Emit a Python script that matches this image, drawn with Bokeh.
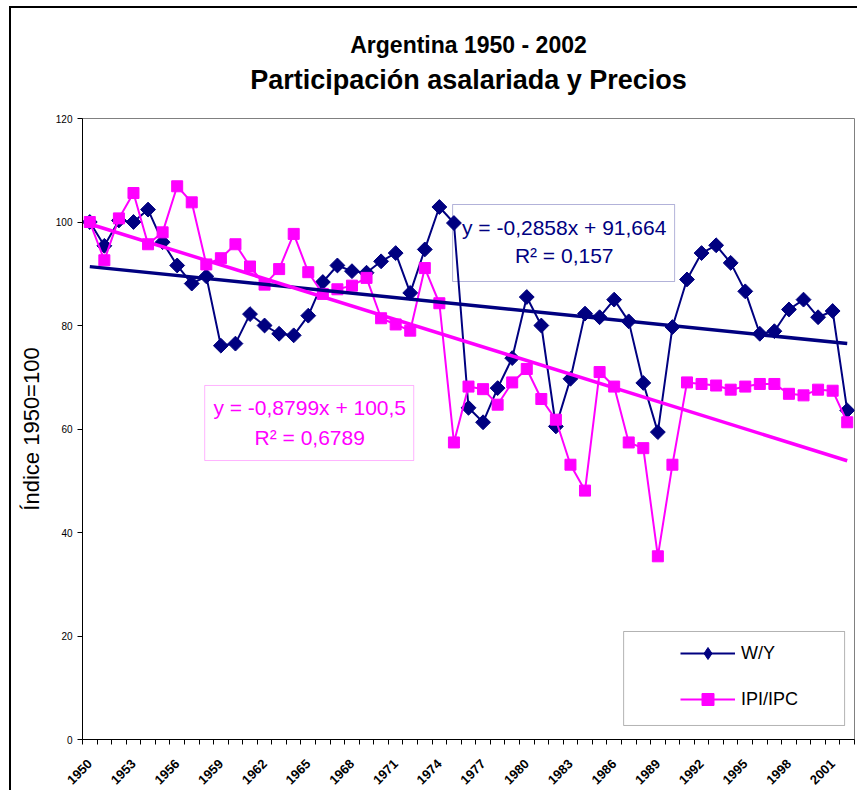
import math
from bokeh.plotting import figure
from bokeh.models import (Range1d, FixedTicker, Legend, LegendItem, Label,
                          BoxAnnotation, Title)
from bokeh.embed import file_html
from bokeh.resources import INLINE

years = list(range(1950, 2003))
wy = [100.0, 95.4, 100.3, 100.0, 102.4, 96.1, 91.6, 88.1, 89.5, 76.1,
      76.5, 82.2, 80.0, 78.4, 78.1, 81.9, 88.4, 91.6, 90.5, 90.2,
      92.4, 94.0, 86.3, 94.7, 102.9, 99.8, 64.1, 61.3, 67.9, 73.7,
      85.5, 80.0, 60.5, 69.7, 82.3, 81.6, 85.0, 80.8, 68.9, 59.4,
      79.7, 88.9, 94.0, 95.5, 92.1, 86.6, 78.4, 78.9, 83.1, 85.0,
      81.6, 82.8, 63.6]
ipi = [100.0, 92.6, 100.7, 105.6, 95.7, 98.0, 106.9, 103.8, 91.8, 93.0,
       95.7, 91.4, 87.9, 90.9, 97.7, 90.3, 86.1, 87.0, 87.7, 89.2,
       81.4, 80.2, 79.0, 91.1, 84.3, 57.4, 68.2, 67.7, 64.7, 69.0,
       71.6, 65.8, 61.8, 53.1, 48.1, 71.0, 68.2, 57.4, 56.3, 35.4,
       53.1, 69.0, 68.7, 68.4, 67.6, 68.2, 68.7, 68.7, 66.8, 66.5,
       67.6, 67.4, 61.3]
y_ticks = [0, 20, 40, 60, 80, 100, 120]
wy_slope, wy_icpt, wy_r2 = -0.2858, 91.664, 0.157
ipi_slope, ipi_icpt, ipi_r2 = -0.8799, 100.5, 0.6789

xs = list(range(1, len(years) + 1))
label_pos = xs[::3]
label_text = {xv: str(years[xv - 1]) for xv in label_pos}

NAVY = "#000080"
PINK = "#FF00FF"
FONT = "Liberation Sans"

p = figure(width=848, height=784, output_backend="svg", toolbar_location=None,
           x_range=Range1d(0.5, len(years) + 0.5), y_range=Range1d(0, 120),
           min_border_left=71, min_border_right=5, min_border_top=110,
           min_border_bottom=53, title="Argentina 1950 - 2002")
p.styles = {"border-left": "2px solid black", "border-top": "2px solid black",
            "margin-left": "9px", "margin-top": "6px"}
p.title.align = "center"
p.title.text_font = FONT
p.title.text_font_size = "23px"
p.title.text_font_style = "bold"
p.title.text_color = "black"
p.title.standoff = -39
t2 = Title(text="Participación asalariada y Precios", align="center",
           text_font=FONT, text_font_size="27px", text_font_style="bold",
           text_color="black", standoff=48)
p.add_layout(t2, "above")

p.background_fill_color = "white"
p.border_fill_color = "white"
p.outline_line_color = "#808080"
p.outline_line_width = 1
p.xgrid.visible = False
p.ygrid.visible = False

# axes
p.yaxis.ticker = FixedTicker(ticks=y_ticks)
p.yaxis.major_tick_out = 5
p.yaxis.major_tick_in = 0
p.yaxis.minor_tick_line_color = None
p.yaxis.major_label_text_font = FONT
p.yaxis.major_label_text_font_size = "10px"
p.yaxis.major_label_text_color = "black"
p.yaxis.major_label_standoff = 5
p.yaxis.axis_label = "Índice 1950=100"
p.yaxis.axis_label_text_font = FONT
p.yaxis.axis_label_text_font_size = "22px"
p.yaxis.axis_label_text_font_style = "normal"
p.yaxis.axis_label_text_color = "black"
p.yaxis.axis_label_standoff = 9
p.yaxis.axis_line_color = "black"

p.xaxis.ticker = FixedTicker(ticks=label_pos,
                             minor_ticks=[i + 0.5 for i in range(0, len(years) + 1)])
p.xaxis.major_label_overrides = label_text
p.xaxis.major_tick_out = 0
p.xaxis.major_tick_in = 0
p.xaxis.major_tick_line_color = None
p.xaxis.minor_tick_out = 5
p.xaxis.minor_tick_in = 0
p.xaxis.minor_tick_line_color = "black"
p.xaxis.major_label_orientation = math.pi / 4
p.xaxis.major_label_text_font = FONT
p.xaxis.major_label_text_font_size = "13px"
p.xaxis.major_label_text_font_style = "bold"
p.xaxis.major_label_text_color = "black"
p.xaxis.major_label_standoff = 17
p.xaxis.axis_line_color = "black"

# series
l1 = p.line(xs, wy, line_color=NAVY, line_width=2)
s1 = p.scatter(xs, wy, marker="square", angle=math.pi / 4, size=10.5,
               fill_color=NAVY, line_color=NAVY)
l2 = p.line(xs, ipi, line_color=PINK, line_width=2)
s2 = p.scatter(xs, ipi, marker="square", size=11, fill_color=PINK, line_color=PINK)
# legend-only diamond glyph (not drawn in the plot: NaN position)
d1 = p.scatter([float("nan")], [float("nan")], marker="diamond", size=17,
               fill_color=NAVY, line_color=NAVY)

# trendlines
tx = [xs[0], xs[-1]]
p.line(tx, [wy_icpt + wy_slope * v for v in tx], line_color=NAVY, line_width=3.5)
p.line(tx, [ipi_icpt + ipi_slope * v for v in tx], line_color=PINK, line_width=3.5)

# equation boxes
p.add_layout(BoxAnnotation(left=25.91, right=41.15, bottom=88.5, top=103.38,
                           fill_alpha=0, line_color=NAVY, line_width=1))
p.add_layout(Label(x=33.57, y=98.94, text="y = -0,2858x + 91,664",
                   text_align="center", text_baseline="middle", text_font=FONT,
                   text_font_size="21px", text_color=NAVY))
p.add_layout(Label(x=33.57, y=93.53, text="R² = 0,157",
                   text_align="center", text_baseline="middle", text_font=FONT,
                   text_font_size="21px", text_color=NAVY))
p.add_layout(BoxAnnotation(left=8.89, right=23.24, bottom=53.91, top=68.41,
                           fill_alpha=0, line_color=PINK, line_width=1))
p.add_layout(Label(x=16.10, y=64.15, text="y = -0,8799x + 100,5",
                   text_align="center", text_baseline="middle", text_font=FONT,
                   text_font_size="21px", text_color=PINK))
p.add_layout(Label(x=16.10, y=58.36, text="R² = 0,6789",
                   text_align="center", text_baseline="middle", text_font=FONT,
                   text_font_size="21px", text_color=PINK))

# legend
p.add_layout(BoxAnnotation(left=37.65, right=52.82, bottom=2.71, top=20.87,
                           fill_color="white", fill_alpha=1, line_color="black",
                           line_width=1))
legend = Legend(items=[LegendItem(label="W/Y", renderers=[l1, d1]),
                       LegendItem(label="IPI/IPC", renderers=[l2, s2])],
                location=(598, 25), padding=0, spacing=16, glyph_height=30,
                glyph_width=55, label_standoff=6, label_text_font=FONT,
                label_text_font_size="18px", label_text_color="black",
                border_line_alpha=0, background_fill_alpha=0, margin=0)
p.add_layout(legend)

open("out.html", "w").write(file_html(p, INLINE))
